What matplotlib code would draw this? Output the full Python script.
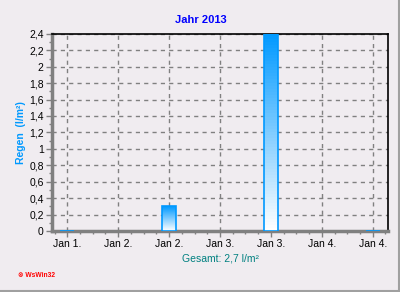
import numpy as np
import matplotlib
matplotlib.use('Agg')
import matplotlib.pyplot as plt
from matplotlib.colors import LinearSegmentedColormap
from matplotlib.ticker import MultipleLocator

# data: positions in 3-hour steps from first label, rain in l/m2
barPos = [0, 8, 16, 24]
rain = [0.0, 0.3, 2.4, 0.0]
tickPos = [0, 4, 8, 12, 16, 20, 24]
tickLabels = ['Jan 1.', 'Jan 2.', 'Jan 2.', 'Jan 3.', 'Jan 3.', 'Jan 4.', 'Jan 4.']
yTicks = [0, 0.2, 0.4, 0.6, 0.8, 1, 1.2, 1.4, 1.6, 1.8, 2, 2.2, 2.4]
yLabels = ['0', '0,2', '0,4', '0,6', '0,8', '1', '1,2', '1,4', '1,6', '1,8', '2', '2,2', '2,4']

plt.rcParams['font.family'] = ['Liberation Sans', 'DejaVu Sans']

bg = '#f0ecf0'
fig = plt.figure(figsize=(4, 2.92), dpi=100, facecolor=bg)
ax = fig.add_axes([0.13, 0.209, 0.84, 0.675])
ax.set_facecolor(bg)

# bars with vertical gradient (white at bottom -> blue at top)
cmap = LinearSegmentedColormap.from_list('rain', ['#ffffff', '#0099ff'])
grad = np.linspace(0, 1, 64).reshape(-1, 1)
w = 1.1
for x, h in zip(barPos, rain):
    if h > 0:
        ax.imshow(grad, cmap=cmap, origin='lower', aspect='auto',
                  extent=[x - w / 2, x + w / 2, 0, h], zorder=3)
    ax.bar(x, h, width=w, bottom=0, facecolor='none', edgecolor='#0099ff',
           linewidth=1.2, zorder=4)

ax.set_xlim(-1.2, 25.2)
ax.set_ylim(0, 2.4)
ax.set_xticks(tickPos)
ax.set_xticklabels(tickLabels, fontsize=7.5)
ax.xaxis.set_minor_locator(MultipleLocator(1))
ax.set_yticks(yTicks)
ax.set_yticklabels(yLabels, fontsize=7.5)
ax.yaxis.set_minor_locator(MultipleLocator(0.1))

ax.grid(True, which='major', color='#808080', linestyle=(0, (3, 3)), linewidth=1)
ax.set_axisbelow(True)

ax.tick_params(axis='both', which='major', length=4, color='#808080', width=1, pad=2)
ax.tick_params(axis='both', which='minor', length=2, color='#808080', width=1)

for s in ['left', 'bottom']:
    ax.spines[s].set_color('#808080')
    ax.spines[s].set_linewidth(2.5)
for s in ['top', 'right']:
    ax.spines[s].set_color('black')
    ax.spines[s].set_linewidth(1.2)

fig.text(0.502, 0.93, 'Jahr 2013', fontsize=8, fontweight='bold', color='#0000ff',
         ha='center', va='center')
ax.set_ylabel('Regen  (l/m\u00b2)', fontsize=7.5, fontweight='bold', color='#0099ff', labelpad=2)
ax.set_xlabel('Gesamt: 2,7 l/m\u00b2', fontsize=7.5, color='#008080', labelpad=3)

fig.text(0.045, 0.05, '\u2297 WsWin32', fontsize=4.8, fontweight='bold', color='#ff0000')

# frame of the image
fig.add_artist(plt.Line2D([0, 1], [0.003, 0.003], color='#a0a0a0', linewidth=1.5,
                          transform=fig.transFigure))
fig.add_artist(plt.Line2D([0.997, 0.997], [0, 1], color='#a0a0a0', linewidth=1.5,
                          transform=fig.transFigure))

fig.savefig('out.png', dpi=100, facecolor=bg)
